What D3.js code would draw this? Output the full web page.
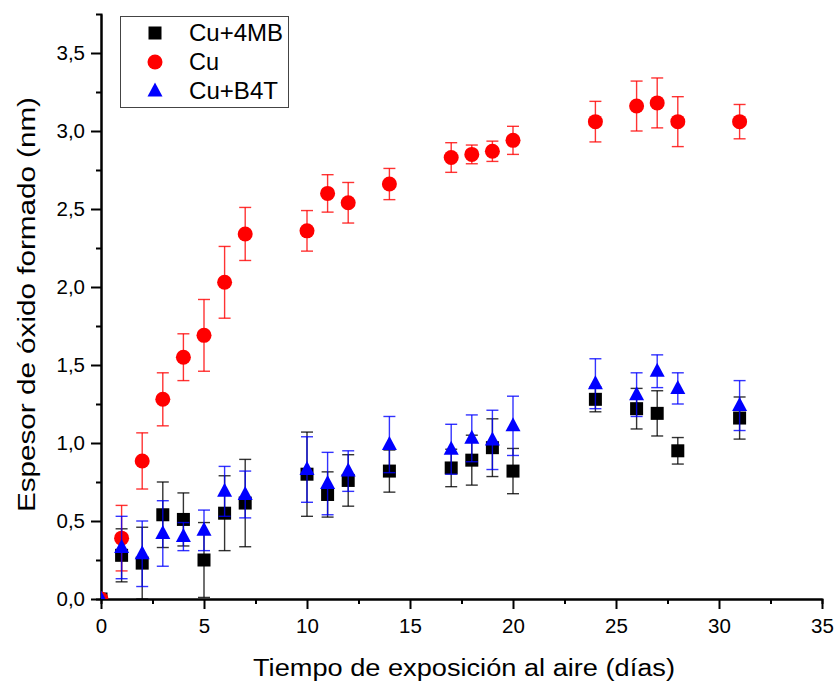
<!DOCTYPE html>
<html lang="es">
<head>
<meta charset="UTF-8">
<title>Espesor de óxido formado</title>
<script src="https://d3js.org/d3.v7.min.js"></script>
<style>
    body { margin: 0; background: #fff; }
    svg { font-family: "Liberation Sans", Arial, sans-serif; }
    .axis path, .axis line { stroke: #000; stroke-width: 2; }
    .axis text { font-size: 20.5px; fill: #000; }
</style>
</head>
<body>
<svg width="838" height="687"></svg>
<script>
    // Days of exposure (shared by the three series)
    const dias = [0, 1, 2, 3, 4, 5, 6, 7, 10, 11, 12, 14, 17, 18, 19, 20, 24, 26, 27, 28, 31];

    // Cu+4MB
    const cu4mb    = [0, 0.28, 0.23, 0.54, 0.51, 0.25, 0.55, 0.615, 0.80, 0.67, 0.76, 0.82, 0.84, 0.89, 0.97, 0.82, 1.28, 1.22, 1.19, 0.95, 1.16];
    const cu4mbErr = [0, 0.17, 0.23, 0.21, 0.17, 0.24, 0.24, 0.28, 0.27, 0.145, 0.165, 0.135, 0.12, 0.16, 0.185, 0.145, 0.08, 0.13, 0.145, 0.085, 0.135];

    // Cu
    const cu    = [0, 0.39, 0.885, 1.28, 1.55, 1.69, 2.03, 2.34, 2.36, 2.60, 2.54, 2.66, 2.83, 2.85, 2.87, 2.94, 3.06, 3.16, 3.18, 3.06, 3.06];
    const cuErr = [0, 0.21, 0.18, 0.17, 0.15, 0.23, 0.23, 0.17, 0.13, 0.12, 0.13, 0.10, 0.095, 0.06, 0.065, 0.09, 0.13, 0.16, 0.16, 0.16, 0.11];

    // Cu+B4T
    const cub4t    = [0, 0.33, 0.29, 0.42, 0.40, 0.44, 0.69, 0.67, 0.83, 0.74, 0.82, 0.99, 0.96, 1.03, 1.02, 1.11, 1.38, 1.31, 1.46, 1.35, 1.24];
    const cub4tErr = [0, 0.20, 0.21, 0.21, 0.09, 0.13, 0.16, 0.15, 0.21, 0.20, 0.13, 0.18, 0.16, 0.15, 0.19, 0.19, 0.16, 0.14, 0.105, 0.10, 0.16];

    const xTicks = [0, 5, 10, 15, 20, 25, 30, 35];
    const yTicks = [0, 0.5, 1.0, 1.5, 2.0, 2.5, 3.0, 3.5];

    const series = [
        { name: "Cu+4MB", values: cu4mb, errs: cu4mbErr, color: "#000000", shape: "square",   w: 94 },
        { name: "Cu",     values: cu,    errs: cuErr,    color: "#ff0000", shape: "circle",   w: 30 },
        { name: "Cu+B4T", values: cub4t, errs: cub4tErr, color: "#0000ff", shape: "triangle", w: 89 }
    ];

    const svg = d3.select("svg");

    const x = d3.scaleLinear().domain([0, 35]).range([101, 822]);
    const y = d3.scaleLinear().domain([0, 3.75]).range([599, 14]);

    const comma = v => d3.format(".1f")(v).replace(".", ",");

    // clip markers to the plot area (the day-0 points sit on the axes)
    svg.append("clipPath").attr("id", "plot-clip")
        .append("rect")
        .attr("x", x(0)).attr("y", 0)
        .attr("width", 838 - x(0)).attr("height", y(0));

    // minor ticks
    svg.append("g").attr("class", "axis")
        .attr("transform", `translate(0,${y(0)})`)
        .call(d3.axisBottom(x).tickValues(d3.range(2.5, 35, 5)).tickSize(5).tickFormat(""));
    svg.append("g").attr("class", "axis")
        .attr("transform", `translate(${x(0)},0)`)
        .call(d3.axisLeft(y).tickValues(d3.range(0.25, 3.75, 0.5)).tickSize(5).tickFormat(""));

    // major axes
    svg.append("g").attr("class", "axis")
        .attr("transform", `translate(0,${y(0)})`)
        .call(d3.axisBottom(x).tickValues(xTicks).tickSize(10).tickSizeOuter(0).tickPadding(9));
    svg.append("g").attr("class", "axis")
        .attr("transform", `translate(${x(0)},0)`)
        .call(d3.axisLeft(y).tickValues(yTicks).tickSize(10).tickSizeOuter(0).tickPadding(6).tickFormat(comma));

    // axis titles (glyphs in the original are a bit wide, so fit them to the measured length)
    svg.append("text")
        .attr("x", 253).attr("y", 676)
        .attr("textLength", 422).attr("lengthAdjust", "spacingAndGlyphs")
        .style("font-size", "23.5px")
        .text("Tiempo de exposición al aire (días)");
    svg.append("text")
        .attr("transform", "translate(35,512) rotate(-90)")
        .attr("textLength", 415).attr("lengthAdjust", "spacingAndGlyphs")
        .style("font-size", "23.5px")
        .text("Espesor de óxido formado (nm)");

    function drawMarker(sel, shape, color) {
        if (shape === "square") {
            sel.append("rect").attr("x", -6.5).attr("y", -6.5).attr("width", 13).attr("height", 13).attr("fill", color);
        } else if (shape === "circle") {
            sel.append("circle").attr("r", 7.5).attr("fill", color);
        } else {
            sel.append("path").attr("d", "M0,-8.5L7.5,5.5L-7.5,5.5Z").attr("fill", color);
        }
    }

    const plot = svg.append("g").attr("clip-path", "url(#plot-clip)");

    series.forEach(s => {
        const pts = dias.map((d, i) => ({ d: d, v: s.values[i], e: s.errs[i] }));
        const g = plot.append("g");

        // error bars
        const bars = g.selectAll(".err").data(pts.filter(p => p.e > 0)).join("g")
            .attr("stroke", s.color).attr("stroke-width", 1.4).attr("stroke-opacity", 0.8);
        bars.append("line")
            .attr("x1", p => x(p.d)).attr("x2", p => x(p.d))
            .attr("y1", p => y(p.v + p.e)).attr("y2", p => y(p.v - p.e));
        bars.append("line")
            .attr("x1", p => x(p.d) - 6).attr("x2", p => x(p.d) + 6)
            .attr("y1", p => y(p.v + p.e)).attr("y2", p => y(p.v + p.e));
        bars.append("line")
            .attr("x1", p => x(p.d) - 6).attr("x2", p => x(p.d) + 6)
            .attr("y1", p => y(p.v - p.e)).attr("y2", p => y(p.v - p.e));

        // markers
        g.selectAll(".pt").data(pts).join("g")
            .attr("transform", p => `translate(${x(p.d)},${y(p.v)})`)
            .each(function () { drawMarker(d3.select(this), s.shape, s.color); });
    });

    // legend
    const legend = svg.append("g");
    legend.append("rect")
        .attr("x", 120.5).attr("y", 16.5).attr("width", 168).attr("height", 91)
        .attr("fill", "#fff").attr("stroke", "#444").attr("stroke-width", 1);
    series.forEach((s, i) => {
        const row = legend.append("g").attr("transform", `translate(155,${33 + i * 29})`);
        drawMarker(row, s.shape, s.color);
        row.append("text")
            .attr("x", 34).attr("y", 0).attr("dy", "0.36em")
            .attr("textLength", s.w).attr("lengthAdjust", "spacingAndGlyphs")
            .style("font-size", "23px")
            .text(s.name);
    });
</script>
</body>
</html>
